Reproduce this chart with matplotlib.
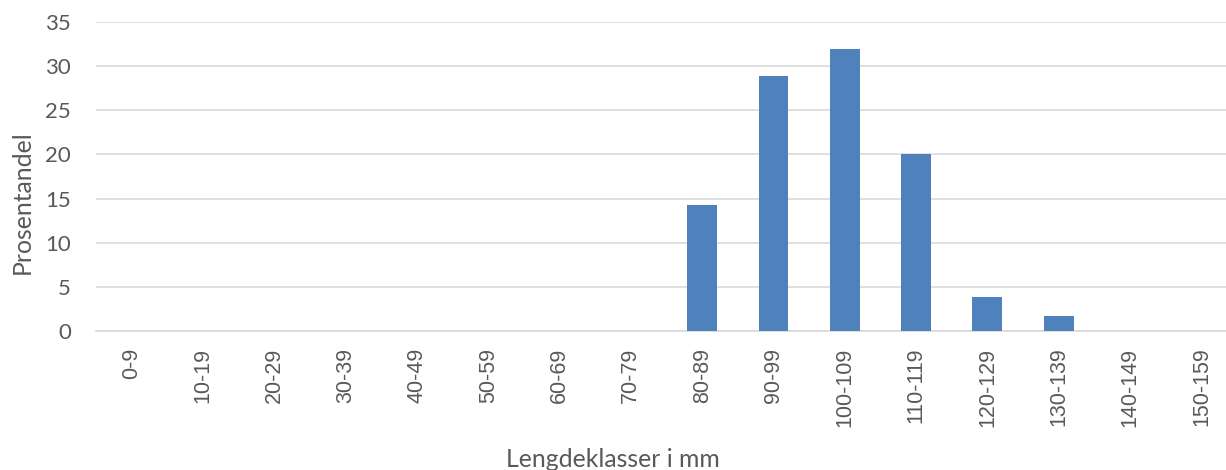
import matplotlib
matplotlib.use('Agg')
import matplotlib.pyplot as plt
import numpy as np

# Length classes and share (%) per class
klasser = ['0-9', '10-19', '20-29', '30-39', '40-49', '50-59', '60-69', '70-79',
           '80-89', '90-99', '100-109', '110-119', '120-129', '130-139', '140-149', '150-159']
prosent = [0, 0, 0, 0, 0, 0, 0, 0, 14.3, 28.9, 32.0, 20.0, 3.8, 1.7, 0, 0]
y_ticks = [0, 5, 10, 15, 20, 25, 30, 35]

tekst = '#595959'

fig = plt.figure(figsize=(12.26, 4.70), dpi=100)
ax = fig.add_axes([0.0783, 0.2957, 0.9307, 0.6574])

x = np.arange(len(klasser))
ax.bar(x, prosent, width=0.42, color='#4F81BD', zorder=3)

ax.set_xlim(-0.5, len(klasser) - 0.5)
ax.set_ylim(0, 35)
ax.set_yticks(y_ticks)
ax.set_yticklabels([str(t) for t in y_ticks], fontsize=16, color=tekst, family='Lato')
ax.set_xticks(x)
ax.set_xticklabels(klasser, rotation=90, fontsize=15.5, color=tekst,
                   family='Liberation Sans', va='top', ha='center')

ax.tick_params(axis='y', length=0, pad=18)
ax.tick_params(axis='x', length=0, pad=12)

ax.grid(axis='y', color='#D9D9D9', linewidth=1.2, zorder=0)
for side in ['top', 'right', 'left']:
    ax.spines[side].set_visible(False)
ax.spines['bottom'].set_color('#D9D9D9')
ax.spines['bottom'].set_linewidth(1.2)

fig.text(0.018, 0.570, 'Prosentandel', rotation=90, ha='center', va='center',
         fontsize=17.8, color=tekst, family='Lato')
fig.text(0.500, 0.022, 'Lengdeklasser i mm', ha='center', va='center',
         fontsize=17.8, color=tekst, family='Lato')

fig.savefig('out.png', dpi=100)
